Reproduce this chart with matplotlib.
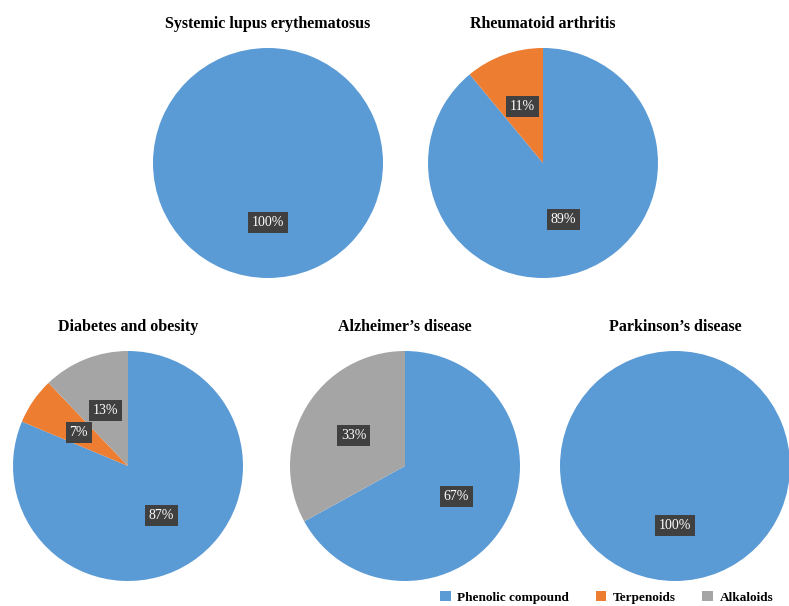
import matplotlib.pyplot as plt
from matplotlib.patches import Patch

plt.rcParams["font.family"] = ["Liberation Serif", "DejaVu Serif"]

# --------------------------------------------------------------------------- #
# data
# --------------------------------------------------------------------------- #
CATEGORIES = ["Phenolic compound", "Terpenoids", "Alkaloids"]
DISEASES = [
    "Systemic lupus erythematosus",
    "Rheumatoid arthritis",
    "Diabetes and obesity",
    "Alzheimer’s disease",
    "Parkinson’s disease",
]
# percent per category, same order as CATEGORIES
SLE = [100, 0, 0]
RA = [89, 11, 0]
DIAB = [87, 7, 13]
ALZ = [67, 0, 33]
PARK = [100, 0, 0]
VALUES = [SLE, RA, DIAB, ALZ, PARK]

COLORS = ["#5B9BD5", "#ED7D31", "#A5A5A5"]
LABEL_BG = "#404040"

W, H = 789, 606
R = 115  # pie radius in px
# pie centres in px (from top-left)
CENTERS = [(268, 163), (543, 163), (128, 466), (405, 466), (675, 466)]

fig = plt.figure(figsize=(W / 100, H / 100), dpi=100, facecolor="white")

for name, vals, (cx, cy) in zip(DISEASES, VALUES, CENTERS):
    ax = fig.add_axes([(cx - R) / W, (H - cy - R) / H, 2 * R / W, 2 * R / H])
    keep = [(v, c) for v, c in zip(vals, COLORS) if v > 0]
    v_kept = [k[0] for k in keep]
    c_kept = [k[1] for k in keep]
    wedges, texts = ax.pie(
        v_kept, colors=c_kept, startangle=90, counterclock=False,
        labels=[f"{v}%" for v in v_kept], labeldistance=0.52,
        wedgeprops=dict(linewidth=0),
    )
    for t in texts:
        t.set_ha("center")
        t.set_va("center")
        t.set_color("white")
        t.set_fontsize(10)
        t.set_bbox(dict(boxstyle="square,pad=0.28", fc=LABEL_BG, ec="none"))
    ax.set_xlim(-1, 1)
    ax.set_ylim(-1, 1)
    ax.set_aspect("equal")
    ax.axis("off")
    fig.text(cx / W, (H - (cy - R - 24)) / H, name, ha="center", va="center",
             fontsize=11.5, fontweight="bold")

handles = [Patch(facecolor=c, edgecolor="none") for c in COLORS]
fig.legend(handles, CATEGORIES, ncol=3, loc="lower right",
           bbox_to_anchor=(0.995, -0.016), frameon=False,
           prop=dict(size=9.5, weight="bold"),
           handlelength=0.8, handleheight=0.8, handletextpad=0.5,
           columnspacing=2.0)

fig.savefig("out.png", dpi=100)
